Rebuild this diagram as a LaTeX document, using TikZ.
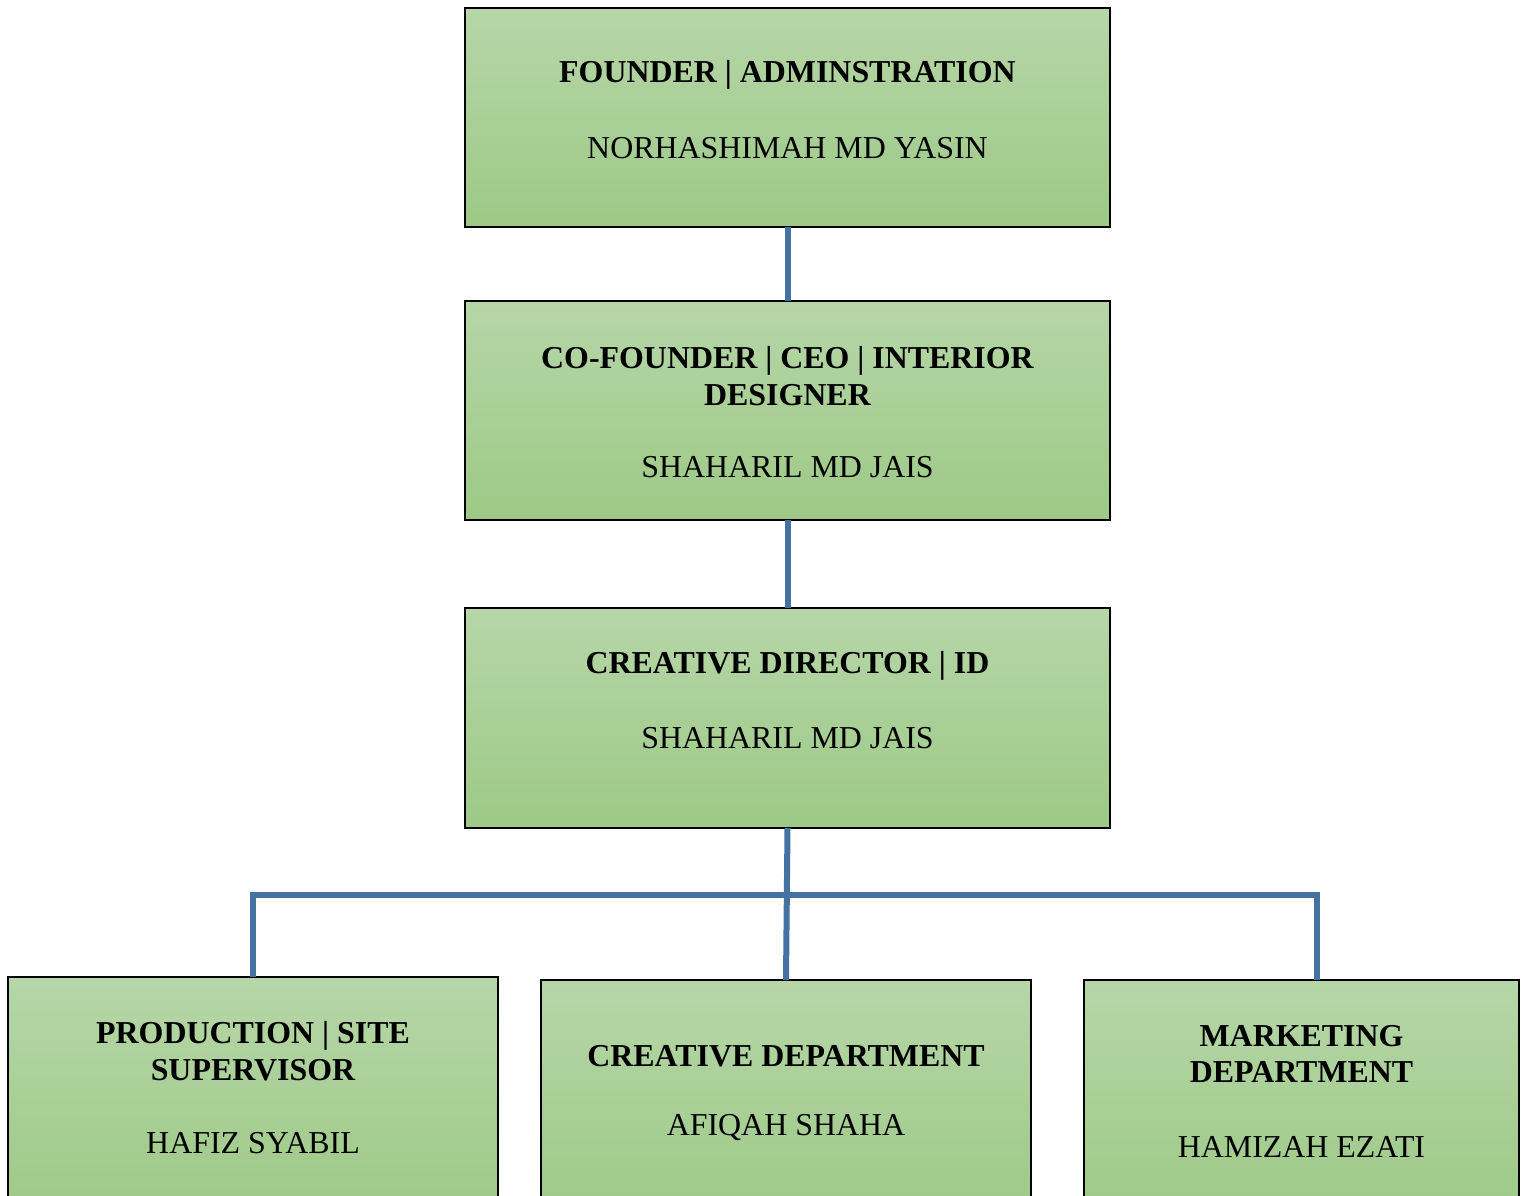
\documentclass[tikz,border=0pt]{standalone}
\usepackage{fontspec}
\setmainfont{Liberation Serif}
\usetikzlibrary{calc}
\definecolor{connblue}{RGB}{68,114,162}
\definecolor{gtop}{RGB}{182,214,168}
\definecolor{gbot}{RGB}{157,201,134}
\tikzset{
  box/.style={draw=black, line width=1.5pt, top color=gtop, bottom color=gbot, rectangle, inner sep=0pt, outer sep=0pt},
  conn/.style={draw=connblue, line width=6pt},
  lbl/.style={align=center, inner sep=0pt, font=\fontsize{31.9}{36.5}\selectfont},
  tlbl/.style={lbl, font=\fontsize{31.9}{36.5}\selectfont\bfseries},
}
\begin{document}
\begin{tikzpicture}[x=1pt,y=-1pt]
\clip (0,0) rectangle (1527,1195);
\fill[white] (0,0) rectangle (1527,1195);
\useasboundingbox (0,0) rectangle (1527,1195);
% boxes
\node[box, minimum width=645pt, minimum height=219pt] (b1) at (787.5,117.5) {};
\node[box, minimum width=645pt, minimum height=219pt] (b2) at (787.5,410.5) {};
\node[box, minimum width=645pt, minimum height=220pt] (b3) at (787.5,718) {};
\node[box, minimum width=490pt, minimum height=240pt] (b4) at (253,1097) {};
\node[box, minimum width=490pt, minimum height=240pt] (b5) at (786,1100) {};
\node[box, minimum width=435pt, minimum height=240pt] (b6) at (1301.5,1100) {};
% connectors
\coordinate (hub) at (787,895);
\coordinate (b6top) at ($(b6.north)+(15.5,0)$);
\draw[conn] (b1.south) -- (b2.north);
\draw[conn] (b2.south) -- (b3.north);
\draw[conn] (b3.south) -- (b5.north);
\draw[conn] (b4.north) |- (hub) -| (b6top);
% texts
\node[tlbl] (t1) at (787.5,75) {FOUNDER | ADMINSTRATION};
\node[lbl] (n1) at (787.5,148) {NORHASHIMAH MD YASIN};
\node[tlbl] (t2) at (787.5,376) {CO-FOUNDER | CEO | INTERIOR\\DESIGNER};
\node[lbl] (n2) at (787.5,467) {SHAHARIL MD JAIS};
\node[tlbl] (t3) at (787.5,666) {CREATIVE DIRECTOR | ID};
\node[lbl] (n3) at (787.5,738) {SHAHARIL MD JAIS};
\node[tlbl] (t4) at (253,1051) {PRODUCTION | SITE\\SUPERVISOR};
\node[lbl] (n4) at (253,1143) {HAFIZ SYABIL};
\node[tlbl] (t5) at (786,1056) {CREATIVE DEPARTMENT};
\node[lbl] (n5) at (786,1128) {AFIQAH SHAHA};
\node[tlbl] (t6) at (1301.5,1054) {MARKETING\\DEPARTMENT};
\node[lbl] (n6) at (1301.5,1147) {HAMIZAH EZATI};
\end{tikzpicture}
\end{document}
